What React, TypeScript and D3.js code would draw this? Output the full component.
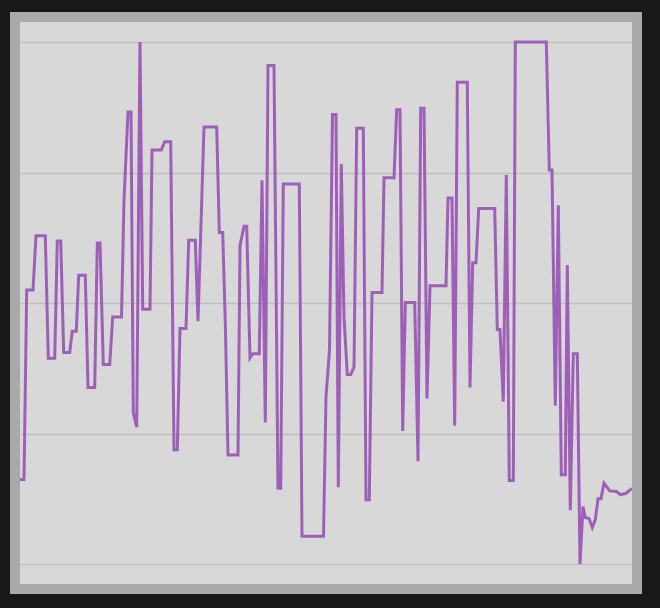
import React from "react";
import * as d3 from "d3";

// time offsets (arbitrary units along the x-axis) and normalized values
const times: number[] = [
  0, 4, 6.7, 13, 16, 25.3, 28.3, 34.7, 37.3, 40.7, 43.7, 49.7, 52.3, 56.3, 58.7, 65.3, 68, 74.7, 77.3, 80,
  83.3, 89.7, 92.7, 101.5, 104, 108, 111, 113.3, 116.7, 120, 122.7, 130, 132, 141.3, 144.7, 150.7, 154, 157.3, 160, 166,
  168.7, 175.3, 178, 184, 196.7, 199.3, 202.7, 205.3, 208, 218, 220, 224, 226.7, 230, 232.7, 239.3, 242, 245.3, 248, 254,
  258, 260.7, 263.3, 279.3, 282, 303.5, 306, 309.5, 312.5, 316, 318.3, 321.3, 324, 327.3, 330.7, 334, 336.7, 343.3, 346, 349.3,
  352, 362, 364, 374, 376.7, 380, 382.7, 385.3, 394.7, 398, 400.7, 404, 407, 410, 426, 428, 432, 434.7, 437.3, 447.3,
  450, 452.7, 456, 458.7, 474.7, 477.3, 480, 483.3, 486.3, 489.3, 493.3, 495.3, 526.3, 529.3, 532, 535.3, 538.3, 541.3, 545.3, 547.3,
  550.3, 553.3, 557.3, 560, 563, 565.3, 569, 572.3, 575.3, 578, 581, 584, 589.7, 596.3, 600.3, 605.7, 612,
];

const values: number[] = [
  0.162, 0.162, 0.525, 0.525, 0.629, 0.629, 0.394, 0.394, 0.619, 0.619, 0.405, 0.405, 0.446, 0.446, 0.553, 0.553, 0.338, 0.338, 0.615, 0.615,
  0.382, 0.382, 0.473, 0.473, 0.697, 0.866, 0.866, 0.29, 0.262, 1.0, 0.488, 0.488, 0.793, 0.793, 0.809, 0.809, 0.219, 0.219, 0.451, 0.451,
  0.62, 0.62, 0.465, 0.837, 0.837, 0.635, 0.635, 0.463, 0.209, 0.209, 0.61, 0.647, 0.647, 0.395, 0.403, 0.403, 0.735, 0.271, 0.955, 0.955,
  0.145, 0.145, 0.728, 0.728, 0.053, 0.053, 0.32, 0.41, 0.861, 0.861, 0.147, 0.766, 0.473, 0.363, 0.363, 0.377, 0.835, 0.835, 0.123, 0.123,
  0.52, 0.52, 0.74, 0.74, 0.87, 0.87, 0.255, 0.501, 0.501, 0.197, 0.873, 0.873, 0.317, 0.533, 0.533, 0.701, 0.701, 0.265, 0.923, 0.923,
  0.338, 0.577, 0.577, 0.681, 0.681, 0.449, 0.449, 0.311, 0.745, 0.16, 0.16, 1.0, 1.0, 0.755, 0.755, 0.303, 0.687, 0.171, 0.171, 0.573,
  0.103, 0.403, 0.403, 0, 0.11, 0.089, 0.087, 0.07, 0.085, 0.125, 0.125, 0.155, 0.14, 0.139, 0.133, 0.135, 0.145,
];

const gridTicks: number[] = [0, 0.25, 0.5, 0.75, 1];

const W = 660;
const H = 608;
const frame = { x: 10, y: 12, w: 632, h: 582 };
const plot = { x: 20, y: 22, w: 612, h: 562 };
const padY = 20;

export default function App() {
  const x = d3.scaleLinear().domain([0, 612]).range([plot.x, plot.x + plot.w]);
  const y = d3
    .scaleLinear()
    .domain([0, 1])
    .range([plot.y + plot.h - padY, plot.y + padY]);

  const data = times.map((t, i) => [t, values[i]] as [number, number]);
  const line = d3
    .line<[number, number]>()
    .x((d) => x(d[0]))
    .y((d) => y(d[1]));

  return (
    <svg
      width={W}
      height={H}
      style={{ position: "fixed", left: 0, top: 0, display: "block" }}
    >
      <defs>
        <clipPath id="plotClip">
          <rect x={plot.x} y={plot.y} width={plot.w} height={plot.h} />
        </clipPath>
      </defs>
      <rect x={0} y={0} width={W} height={H} fill="#191919" />
      <rect x={frame.x} y={frame.y} width={frame.w} height={frame.h} fill="#a9a9a9" />
      <rect x={plot.x} y={plot.y} width={plot.w} height={plot.h} fill="#d8d8d8" />
      {gridTicks.map((t) => (
        <line
          key={t}
          x1={plot.x}
          x2={plot.x + plot.w}
          y1={Math.round(y(t)) + 0.5}
          y2={Math.round(y(t)) + 0.5}
          stroke="#bfbfbf"
          strokeWidth={1.5}
        />
      ))}
      <g clipPath="url(#plotClip)">
        <path
          d={line(data) || ""}
          fill="none"
          stroke="#9b59b6"
          strokeOpacity={0.95}
          strokeWidth={3}
          strokeLinejoin="miter"
        />
      </g>
    </svg>
  );
}
